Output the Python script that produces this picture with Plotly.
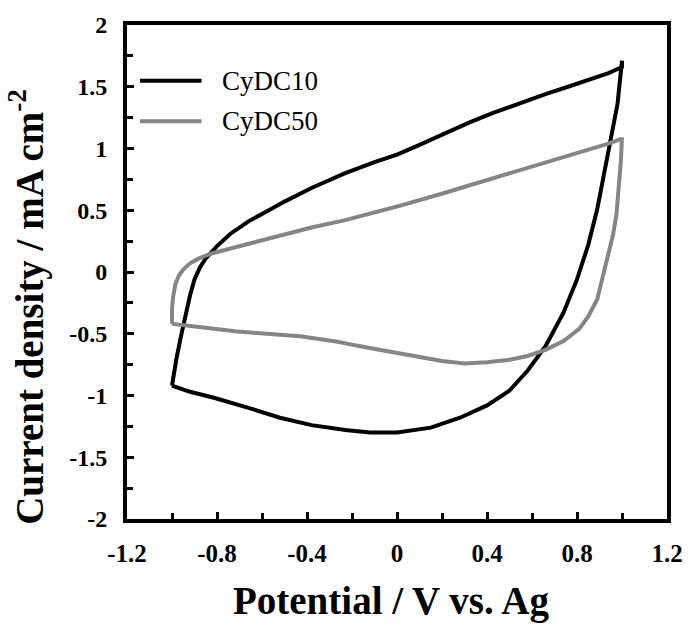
import plotly.graph_objects as go

# CyDC10 (black) — anodic sweep then cathodic sweep, closed loop
cydc10_x = [-1.00, -0.99, -0.98, -0.96, -0.94, -0.92, -0.90, -0.875, -0.85, -0.80, -0.74, -0.66, -0.58, -0.50, -0.38, -0.23, -0.10, 0.00, 0.10, 0.21, 0.32, 0.43, 0.55, 0.66, 0.76, 0.86, 0.94, 1.00,
            1.00, 0.98, 0.95, 0.92, 0.89, 0.85, 0.80, 0.74, 0.66, 0.58, 0.50, 0.40, 0.28, 0.15, 0.00, -0.12, -0.23, -0.38, -0.52, -0.66, -0.81, -0.92, -1.00]
cydc10_y = [-0.92, -0.80, -0.70, -0.52, -0.34, -0.19, -0.06, 0.04, 0.11, 0.21, 0.31, 0.41, 0.49, 0.57, 0.68, 0.80, 0.89, 0.95, 1.03, 1.12, 1.21, 1.29, 1.37, 1.44, 1.50, 1.56, 1.61, 1.66,
            1.71, 1.36, 1.07, 0.78, 0.51, 0.22, -0.06, -0.33, -0.60, -0.80, -0.96, -1.08, -1.18, -1.26, -1.30, -1.30, -1.28, -1.24, -1.18, -1.10, -1.02, -0.97, -0.92]

# CyDC50 (gray)
cydc50_x = [-1.00, -1.00, -0.995, -0.985, -0.97, -0.95, -0.92, -0.88, -0.825, -0.70, -0.52, -0.38, -0.23, -0.10, 0.00, 0.21, 0.43, 0.64, 0.86, 0.94, 1.00,
            1.00, 0.995, 0.985, 0.975, 0.96, 0.94, 0.915, 0.89, 0.85, 0.81, 0.74, 0.66, 0.58, 0.50, 0.40, 0.30, 0.20, 0.10, 0.00, -0.14, -0.28, -0.43, -0.58, -0.72, -0.86, -1.00]
cydc50_y = [-0.42, -0.30, -0.20, -0.10, -0.03, 0.02, 0.07, 0.11, 0.15, 0.21, 0.29, 0.36, 0.42, 0.48, 0.53, 0.64, 0.76, 0.87, 0.99, 1.04, 1.08,
            1.09, 0.90, 0.70, 0.46, 0.30, 0.15, -0.05, -0.22, -0.36, -0.46, -0.56, -0.63, -0.68, -0.71, -0.73, -0.74, -0.72, -0.69, -0.66, -0.61, -0.56, -0.52, -0.50, -0.48, -0.45, -0.42]

series_names = ["CyDC10", "CyDC50"]
series_colors = ["#000000", "#858585"]

x_tickvals = [-1.2, -0.8, -0.4, 0, 0.4, 0.8, 1.2]
x_ticktext = ["-1.2", "-0.8", "-0.4", "0", "0.4", "0.8", "1.2"]
y_tickvals = [-2, -1.5, -1, -0.5, 0, 0.5, 1, 1.5, 2]
y_ticktext = ["-2", "-1.5", "-1", "-0.5", "0", "0.5", "1", "1.5", "2"]

x_title = "Potential / V vs. Ag"
y_title = "Current density / mA cm<sup>-2</sup>"

serif = "Liberation Serif"

fig = go.Figure()
for name, xs, ys, col in zip(series_names, [cydc10_x, cydc50_x], [cydc10_y, cydc50_y], series_colors):
    fig.add_trace(go.Scatter(x=xs, y=ys, mode="lines", name=name,
                             line=dict(color=col, width=4, shape="linear"),
                             showlegend=False))

# legend drawn in paper coordinates
leg_y = [0.887, 0.805]
for name, col, ly in zip(series_names, series_colors, leg_y):
    fig.add_shape(type="line", xref="paper", yref="paper", x0=0.024, x1=0.138, y0=ly, y1=ly,
                  line=dict(color=col, width=4))
    fig.add_annotation(xref="paper", yref="paper", x=0.172, y=ly, text=name, showarrow=False,
                       xanchor="left", yanchor="middle", font=dict(family=serif, size=27, color="#000"))

# axis titles
fig.add_annotation(xref="paper", yref="paper", x=0.489, y=-0.166, text="<b>" + x_title + "</b>",
                   showarrow=False, xanchor="center", yanchor="middle",
                   font=dict(family=serif, size=39, color="black"))
fig.add_annotation(xref="paper", yref="paper", x=-0.186, y=0.4286, text="<b>" + y_title + "</b>",
                   textangle=-90, showarrow=False, xanchor="center", yanchor="middle",
                   font=dict(family=serif, size=39, color="black"))

axis_common = dict(showline=True, linecolor="black", linewidth=4, mirror=True,
                   ticks="inside", ticklen=7, tickwidth=3, tickcolor="black",
                   showgrid=False, zeroline=False)

fig.update_xaxes(range=[-1.2, 1.2], tickvals=x_tickvals, ticktext=["<b>" + t + "</b>" for t in x_ticktext],
                 minor=dict(ticks="inside", ticklen=6, tickwidth=3, tickcolor="black", dtick=0.2, tick0=0),
                 ticklabelstandoff=9,
                 tickfont=dict(family=serif, size=25, color="black"),
                 **axis_common)
fig.update_yaxes(range=[-2, 2], tickvals=y_tickvals, ticktext=["<b>" + t + "</b>" for t in y_ticktext],
                 minor=dict(ticks="inside", ticklen=6, tickwidth=3, tickcolor="black", dtick=0.25, tick0=0),
                 ticklabelstandoff=11,
                 tickfont=dict(family=serif, size=24, color="black"),
                 **axis_common)

fig.update_layout(width=695, height=625, margin=dict(l=127, r=18, t=22, b=106),
                  plot_bgcolor="white", paper_bgcolor="white")

fig.write_html("out.html")
